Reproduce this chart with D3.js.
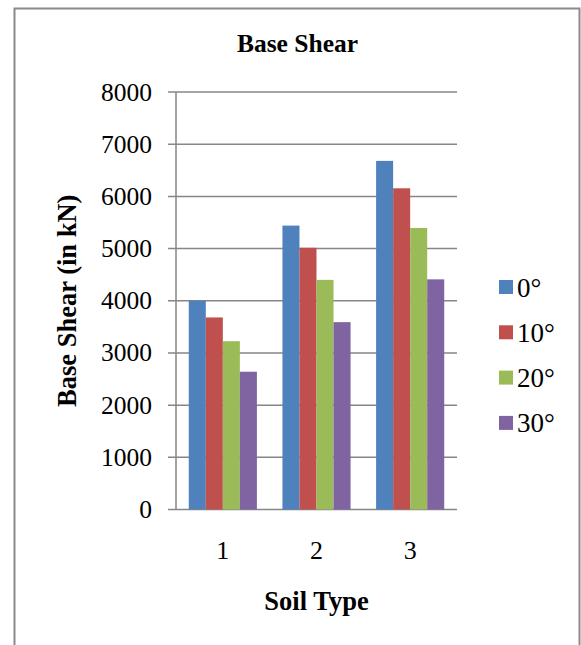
<!DOCTYPE html>
<html>
<head>
<meta charset="utf-8">
<script src="https://cdn.jsdelivr.net/npm/d3@7"></script>
<style>
  body { margin: 0; background: #fff; }
  svg { display: block; font-family: "Liberation Serif", "Times New Roman", serif; }
</style>
</head>
<body>
<svg id="chart" width="581" height="645"></svg>
<script>
// data
let soilTypes = ['1', '2', '3']
let angles = ['0°', '10°', '20°', '30°']
let shear0 = [4000, 5440, 6680]
let shear10 = [3680, 5015, 6155]
let shear20 = [3225, 4400, 5395]
let shear30 = [2640, 3590, 4410]
let yTicks = [0, 1000, 2000, 3000, 4000, 5000, 6000, 7000, 8000]

let seriesValues = [shear0, shear10, shear20, shear30]
let colors = ['#4F81BD', '#C0504D', '#9BBB59', '#8064A2']

let svg = d3.select('#chart')

let plotLeft = 176, plotRight = 457, plotTop = 92, plotBottom = 509.5

// chart frame
svg.append('path')
    .attr('d', 'M14.5,700 L14.5,8.5 L579.5,8.5 L579.5,700')
    .attr('fill', 'none')
    .attr('stroke', '#8a8a8a')
    .attr('stroke-width', 2)

let xScale = d3.scaleBand()
    .domain(soilTypes)
    .range([plotLeft, plotRight])

let yScale = d3.scaleLinear()
    .domain([0, 8000])
    .range([plotBottom, plotTop])

// gap width 150% -> bar group takes 4 of 5.5 bar widths
let step = xScale.bandwidth()
let barW = step / 5.5
let innerScale = d3.scaleBand()
    .domain(d3.range(angles.length))
    .range([barW * 0.75, step - barW * 0.75])

// gridlines
svg.append('g')
    .selectAll('line')
    .data(yTicks)
    .enter()
    .append('line')
    .attr('x1', plotLeft - 8)
    .attr('x2', plotRight)
    .attr('y1', (d) => yScale(d))
    .attr('y2', (d) => yScale(d))
    .attr('stroke', '#868686')
    .attr('stroke-width', 1.5)

// y axis line
svg.append('line')
    .attr('x1', plotLeft).attr('x2', plotLeft)
    .attr('y1', plotTop).attr('y2', plotBottom)
    .attr('stroke', '#868686')
    .attr('stroke-width', 1.5)

// y tick labels
svg.append('g')
    .selectAll('text')
    .data(yTicks)
    .enter()
    .append('text')
    .attr('x', 152)
    .attr('y', (d) => yScale(d) + 8.5)
    .attr('text-anchor', 'end')
    .attr('font-size', 25.5)
    .text((d) => d)

// bars
let groups = svg.selectAll('.group')
    .data(soilTypes)
    .enter()
    .append('g')
    .attr('class', 'group')
    .attr('transform', (d) => 'translate(' + xScale(d) + ',0)')

groups.selectAll('rect')
    .data((d, i) => seriesValues.map((vals, s) => ({ s: s, v: vals[i] })))
    .enter()
    .append('rect')
    .attr('x', (d) => innerScale(d.s))
    .attr('width', innerScale.bandwidth())
    .attr('y', (d) => yScale(d.v))
    .attr('height', (d) => plotBottom - yScale(d.v))
    .attr('fill', (d) => colors[d.s])

// category labels
svg.append('g')
    .selectAll('text')
    .data(soilTypes)
    .enter()
    .append('text')
    .attr('x', (d) => xScale(d) + step / 2)
    .attr('y', 559)
    .attr('text-anchor', 'middle')
    .attr('font-size', 26)
    .text((d) => d)

// titles
svg.append('text')
    .attr('x', 297.5)
    .attr('y', 52)
    .attr('text-anchor', 'middle')
    .attr('font-size', 25.5)
    .attr('font-weight', 'bold')
    .text('Base Shear')

svg.append('text')
    .attr('x', (plotLeft + plotRight) / 2)
    .attr('y', 610)
    .attr('text-anchor', 'middle')
    .attr('font-size', 26.5)
    .attr('font-weight', 'bold')
    .text('Soil Type')

svg.append('text')
    .attr('transform', 'translate(76,' + (plotTop + plotBottom) / 2 + ') rotate(-90)')
    .attr('text-anchor', 'middle')
    .attr('font-size', 26.5)
    .attr('font-weight', 'bold')
    .text('Base Shear (in kN)')

// legend
let legend = svg.selectAll('.legend')
    .data(angles)
    .enter()
    .append('g')
    .attr('class', 'legend')
    .attr('transform', (d, i) => 'translate(499,' + (287 + i * 45.3) + ')')

legend.append('rect')
    .attr('x', 0)
    .attr('y', -7)
    .attr('width', 14)
    .attr('height', 14)
    .attr('fill', (d, i) => colors[i])

legend.append('text')
    .attr('x', 18)
    .attr('y', 9.5)
    .attr('font-size', 27)
    .text((d) => d)
</script>
</body>
</html>
